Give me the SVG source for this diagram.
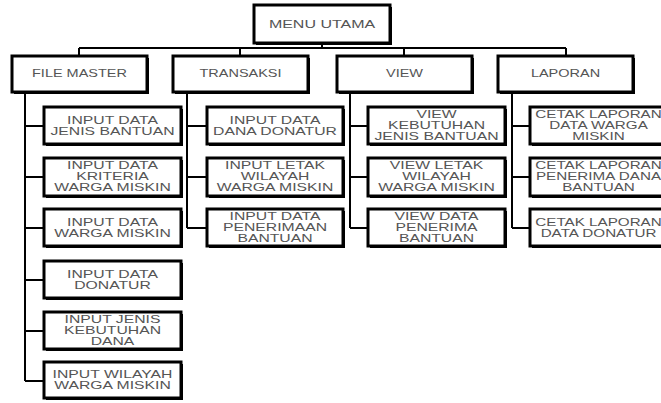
<svg xmlns="http://www.w3.org/2000/svg" width="661" height="403" viewBox="0 0 661 403">
  <style>
    .box { fill: #ffffff; stroke: #000000; stroke-width: 3; }
    .shadow { fill: #000000; }
    .lbl { font-family: "Liberation Sans", Arial, sans-serif; font-size: 10.5px; fill: #555555; text-anchor: middle; }
    .top { font-size: 10px; }
    .wire { fill: none; stroke: #000000; stroke-width: 2; }
  </style>
  <rect width="661" height="403" fill="#ffffff"/>

  <!-- connectors -->
  <g id="connectors">
    <path class="wire" d="M322 43 V48 M79 48 H566 M79 48 V56 M240 48 V56 M404 48 V56 M566 48 V56"/>
    <!-- FILE MASTER trunk -->
    <path class="wire" d="M25 92 V381 M25 126 H44 M25 177 H44 M25 228 H44 M25 280 H44 M25 331 H44 M25 381 H44"/>
    <!-- TRANSAKSI trunk -->
    <path class="wire" d="M187 92 V228 M187 126 H207 M187 177 H207 M187 228 H207"/>
    <!-- VIEW trunk -->
    <path class="wire" d="M350 92 V228 M350 126 H368 M350 177 H368 M350 228 H368"/>
    <!-- LAPORAN trunk -->
    <path class="wire" d="M512 92 V228 M512 126 H530 M512 177 H530 M512 228 H530"/>
  </g>

  <!-- root -->
  <g id="menu-utama">
    <rect class="shadow" x="256" y="7" width="136" height="38"/>
    <rect class="box" x="254" y="5" width="136" height="38"/>
    <text class="lbl top" transform="translate(322 0) scale(1.6 1)" x="0" y="28">MENU UTAMA</text>
  </g>

  <!-- level 1 -->
  <g id="file-master">
    <rect class="shadow" x="14" y="58" width="135" height="36"/>
    <rect class="box" x="12" y="56" width="135" height="36"/>
    <text class="lbl top" transform="translate(79.5 0) scale(1.45 1)" x="0" y="77.5">FILE MASTER</text>
  </g>
  <g id="transaksi">
    <rect class="shadow" x="175" y="58" width="135" height="36"/>
    <rect class="box" x="173" y="56" width="135" height="36"/>
    <text class="lbl top" transform="translate(240.5 0) scale(1.45 1)" x="0" y="77.5">TRANSAKSI</text>
  </g>
  <g id="view">
    <rect class="shadow" x="339" y="58" width="135" height="36"/>
    <rect class="box" x="337" y="56" width="135" height="36"/>
    <text class="lbl top" transform="translate(404.5 0) scale(1.45 1)" x="0" y="77.5">VIEW</text>
  </g>
  <g id="laporan">
    <rect class="shadow" x="500" y="58" width="135" height="36"/>
    <rect class="box" x="498" y="56" width="135" height="36"/>
    <text class="lbl top" transform="translate(565.5 0) scale(1.45 1)" x="0" y="77.5">LAPORAN</text>
  </g>

  <!-- FILE MASTER children -->
  <g id="fm-1">
    <rect class="shadow" x="46" y="109" width="137" height="37"/>
    <rect class="box" x="44" y="107" width="137" height="37"/>
    <text class="lbl" transform="translate(112.5 0) scale(1.5 1)"><tspan x="0" y="124">INPUT DATA</tspan><tspan x="0" y="135">JENIS BANTUAN</tspan></text>
  </g>
  <g id="fm-2">
    <rect class="shadow" x="46" y="160" width="137" height="38"/>
    <rect class="box" x="44" y="158" width="137" height="38"/>
    <text class="lbl" transform="translate(112.5 0) scale(1.5 1)"><tspan x="0" y="169.5">INPUT DATA</tspan><tspan x="0" y="180.5">KRITERIA</tspan><tspan x="0" y="191.5">WARGA MISKIN</tspan></text>
  </g>
  <g id="fm-3">
    <rect class="shadow" x="46" y="211" width="137" height="37"/>
    <rect class="box" x="44" y="209" width="137" height="37"/>
    <text class="lbl" transform="translate(112.5 0) scale(1.5 1)"><tspan x="0" y="226">INPUT DATA</tspan><tspan x="0" y="237">WARGA MISKIN</tspan></text>
  </g>
  <g id="fm-4">
    <rect class="shadow" x="46" y="263" width="137" height="37"/>
    <rect class="box" x="44" y="261" width="137" height="37"/>
    <text class="lbl" transform="translate(112.5 0) scale(1.5 1)"><tspan x="0" y="278">INPUT DATA</tspan><tspan x="0" y="289">DONATUR</tspan></text>
  </g>
  <g id="fm-5">
    <rect class="shadow" x="46" y="314" width="137" height="37"/>
    <rect class="box" x="44" y="312" width="137" height="37"/>
    <text class="lbl" transform="translate(112.5 0) scale(1.5 1)"><tspan x="0" y="323">INPUT JENIS</tspan><tspan x="0" y="334">KEBUTUHAN</tspan><tspan x="0" y="345">DANA</tspan></text>
  </g>
  <g id="fm-6">
    <rect class="shadow" x="46" y="364" width="137" height="36"/>
    <rect class="box" x="44" y="362" width="137" height="36"/>
    <text class="lbl" transform="translate(112.5 0) scale(1.5 1)"><tspan x="0" y="378">INPUT WILAYAH</tspan><tspan x="0" y="389">WARGA MISKIN</tspan></text>
  </g>

  <!-- TRANSAKSI children -->
  <g id="tr-1">
    <rect class="shadow" x="209" y="109" width="136" height="37"/>
    <rect class="box" x="207" y="107" width="136" height="37"/>
    <text class="lbl" transform="translate(275 0) scale(1.5 1)"><tspan x="0" y="124">INPUT DATA</tspan><tspan x="0" y="135">DANA DONATUR</tspan></text>
  </g>
  <g id="tr-2">
    <rect class="shadow" x="209" y="160" width="136" height="38"/>
    <rect class="box" x="207" y="158" width="136" height="38"/>
    <text class="lbl" transform="translate(275 0) scale(1.5 1)"><tspan x="0" y="169.5">INPUT LETAK</tspan><tspan x="0" y="180.5">WILAYAH</tspan><tspan x="0" y="191.5">WARGA MISKIN</tspan></text>
  </g>
  <g id="tr-3">
    <rect class="shadow" x="209" y="211" width="136" height="37"/>
    <rect class="box" x="207" y="209" width="136" height="37"/>
    <text class="lbl" transform="translate(275 0) scale(1.5 1)"><tspan x="0" y="220">INPUT DATA</tspan><tspan x="0" y="231">PENERIMAAN</tspan><tspan x="0" y="242">BANTUAN</tspan></text>
  </g>

  <!-- VIEW children -->
  <g id="vw-1">
    <rect class="shadow" x="370" y="109" width="137" height="37"/>
    <rect class="box" x="368" y="107" width="137" height="37"/>
    <text class="lbl" transform="translate(436.5 0) scale(1.5 1)"><tspan x="0" y="118">VIEW</tspan><tspan x="0" y="129">KEBUTUHAN</tspan><tspan x="0" y="140">JENIS BANTUAN</tspan></text>
  </g>
  <g id="vw-2">
    <rect class="shadow" x="370" y="160" width="137" height="38"/>
    <rect class="box" x="368" y="158" width="137" height="38"/>
    <text class="lbl" transform="translate(436.5 0) scale(1.5 1)"><tspan x="0" y="169.5">VIEW LETAK</tspan><tspan x="0" y="180.5">WILAYAH</tspan><tspan x="0" y="191.5">WARGA MISKIN</tspan></text>
  </g>
  <g id="vw-3">
    <rect class="shadow" x="370" y="211" width="137" height="37"/>
    <rect class="box" x="368" y="209" width="137" height="37"/>
    <text class="lbl" transform="translate(436.5 0) scale(1.5 1)"><tspan x="0" y="220">VIEW DATA</tspan><tspan x="0" y="231">PENERIMA</tspan><tspan x="0" y="242">BANTUAN</tspan></text>
  </g>

  <!-- LAPORAN children -->
  <g id="lp-1">
    <rect class="shadow" x="532" y="109" width="137" height="37"/>
    <rect class="box" x="530" y="107" width="137" height="37"/>
    <text class="lbl" transform="translate(598.5 0) scale(1.45 1)"><tspan x="0" y="118">CETAK LAPORAN</tspan><tspan x="0" y="129">DATA WARGA</tspan><tspan x="0" y="140">MISKIN</tspan></text>
  </g>
  <g id="lp-2">
    <rect class="shadow" x="532" y="160" width="137" height="38"/>
    <rect class="box" x="530" y="158" width="137" height="38"/>
    <text class="lbl" transform="translate(598.5 0) scale(1.45 1)"><tspan x="0" y="169.5">CETAK LAPORAN</tspan><tspan x="0" y="180.5">PENERIMA DANA</tspan><tspan x="0" y="191.5">BANTUAN</tspan></text>
  </g>
  <g id="lp-3">
    <rect class="shadow" x="532" y="211" width="137" height="37"/>
    <rect class="box" x="530" y="209" width="137" height="37"/>
    <text class="lbl" transform="translate(598.5 0) scale(1.45 1)"><tspan x="0" y="226">CETAK LAPORAN</tspan><tspan x="0" y="237">DATA DONATUR</tspan></text>
  </g>
</svg>
